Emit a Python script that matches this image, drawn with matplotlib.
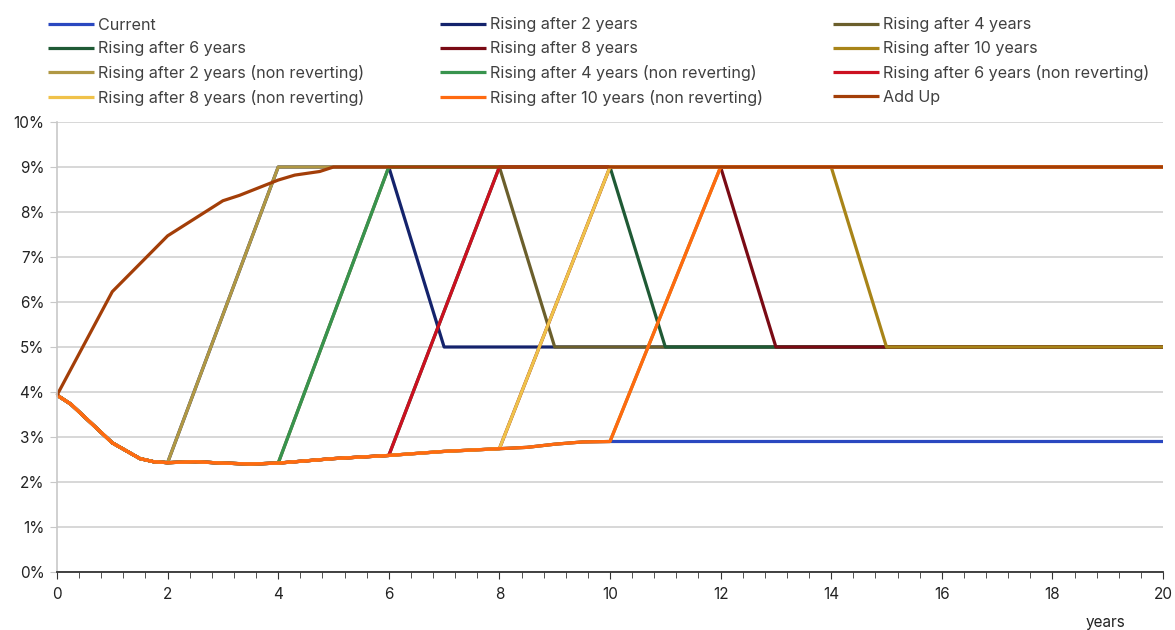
import matplotlib
matplotlib.use("Agg")
import matplotlib.pyplot as plt
from matplotlib.ticker import MultipleLocator, FuncFormatter

# ---- data (percent) ----
current_x = [0, 0.25, 1, 1.5, 1.75, 2, 2.5, 3, 3.5, 4, 5, 6, 7, 8, 8.5, 9, 9.5, 10, 20]
current_y = [3.93, 3.73, 2.87, 2.52, 2.45, 2.43, 2.45, 2.42, 2.40, 2.42, 2.52, 2.59, 2.68, 2.74, 2.77, 2.84, 2.89, 2.90, 2.90]

addup_x = [0, 1, 2, 3, 3.3, 4, 4.3, 4.75, 5, 20]
addup_y = [3.93, 6.23, 7.47, 8.25, 8.37, 8.71, 8.82, 8.90, 9.00, 9.00]

rise_start = [2, 4, 6, 8, 10]          # year the rise starts
peak_level = 9.0                        # level reached
ramp_years = 2                          # years to reach peak
hold_years = 2                          # years held at peak (reverting)
revert_years = 1                        # years to fall back
revert_level = 5.0                      # level after reverting
horizon = 20

labels_rev = ["Rising after 2 years", "Rising after 4 years", "Rising after 6 years",
              "Rising after 8 years", "Rising after 10 years"]
labels_nr = ["Rising after 2 years (non reverting)", "Rising after 4 years (non reverting)",
             "Rising after 6 years (non reverting)", "Rising after 8 years (non reverting)",
             "Rising after 10 years (non reverting)"]

colors_rev = ["#14236c", "#6b5f2c", "#1f5a35", "#7a0a14", "#a88418"]
colors_nr = ["#b09844", "#38944e", "#cc1020", "#f0c24a", "#ff6a10"]
color_current = "#2a48c0"
color_addup = "#a33e08"

plt.rcParams['font.family'] = ['Inter', 'DejaVu Sans']

fig = plt.figure(figsize=(11.75, 6.3), dpi=100)
ax = fig.add_axes([57/1175, 58/630, 1106/1175, 450/630])

def base_until(n):
    xs = [x for x in current_x if x <= n]
    ys = [y for x, y in zip(current_x, current_y) if x <= n]
    return xs, ys

lw = 2.3
handles = {}
h, = ax.plot(current_x, current_y, color=color_current, lw=lw, label="Current")
handles["Current"] = h
for n, lab, c in zip(rise_start, labels_rev, colors_rev):
    xs, ys = base_until(n)
    xs = xs + [n + ramp_years, n + ramp_years + hold_years,
               n + ramp_years + hold_years + revert_years, horizon]
    ys = ys + [peak_level, peak_level, revert_level, revert_level]
    h, = ax.plot(xs, ys, color=c, lw=lw, label=lab)
    handles[lab] = h
for n, lab, c in zip(rise_start, labels_nr, colors_nr):
    xs, ys = base_until(n)
    xs = xs + [n + ramp_years, horizon]
    ys = ys + [peak_level, peak_level]
    h, = ax.plot(xs, ys, color=c, lw=lw, label=lab)
    handles[lab] = h
h, = ax.plot(addup_x, addup_y, color=color_addup, lw=lw, label="Add Up")
handles["Add Up"] = h

for l in ax.get_lines():
    l.set_solid_capstyle('butt')
    l.set_clip_on(False)

ax.set_xlim(0, 20)
ax.set_ylim(0, 10)
ax.xaxis.set_major_locator(MultipleLocator(2))
ax.xaxis.set_minor_locator(MultipleLocator(0.4))
ax.yaxis.set_major_locator(MultipleLocator(1))
ax.yaxis.set_major_formatter(FuncFormatter(lambda v, p: f"{v:.0f}%"))
ax.grid(axis='y', color='#d4d4d4', lw=1.3)
ax.set_axisbelow(True)
for s in ['top', 'right']:
    ax.spines[s].set_visible(False)
ax.spines['left'].set_color('#c8c8c8')
ax.spines['left'].set_linewidth(1.2)
ax.spines['bottom'].set_color('#333333')
ax.spines['bottom'].set_linewidth(1.3)
ax.spines['bottom'].set_zorder(5)
ax.tick_params(axis='y', length=5, color='#c8c8c8', labelsize=11, labelcolor='#222222', pad=4)
ax.tick_params(axis='x', which='major', length=5, color='#333333', labelsize=11, labelcolor='#222222', pad=6)
ax.tick_params(axis='x', which='minor', length=4, color='#333333')

fig.text(1105/1175, 1 - 623/630, "years", ha='center', va='center', fontsize=11, color='#222222')

cols = [["Current", labels_rev[2], labels_nr[0], labels_nr[3]],
        [labels_rev[0], labels_rev[3], labels_nr[1], labels_nr[4]],
        [labels_rev[1], labels_rev[4], labels_nr[2], "Add Up"]]
col_x = [48, 440, 833]
for cx, labs in zip(col_x, cols):
    leg = fig.legend([handles[l] for l in labs], labs, loc='upper left',
                     bbox_to_anchor=(cx/1175, 1 - 17.5/630), frameon=False,
                     borderpad=0, borderaxespad=0, handlelength=2.85,
                     handletextpad=0.25, labelspacing=0.54, fontsize=11.6)
    for t in leg.get_texts():
        t.set_color('#404040')

fig.savefig("out.png", dpi=100)
